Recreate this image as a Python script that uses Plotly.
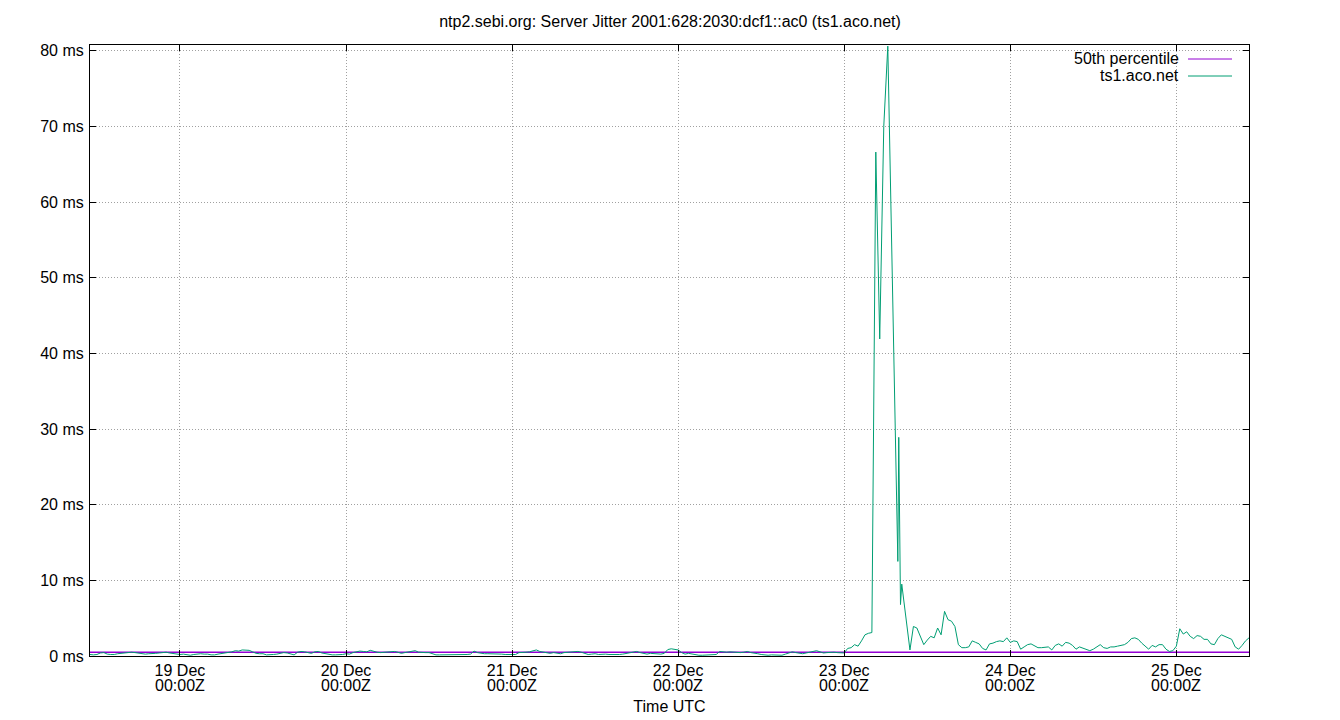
import pandas as pd
import plotly.graph_objects as go

title = "ntp2.sebi.org: Server Jitter 2001:628:2030:dcf1::ac0 (ts1.aco.net)"
series_name = "ts1.aco.net"
median_name = "50th percentile"
x_title = "Time UTC"
median_ms = 0.48

start = "2023-12-18 11:00"
step = "30min"

# jitter in ms, every 30 min (None = replaced by the irregular spike samples)
dec18 = [0.2, 0.15, 0.2, 0.4, 0.45, 0.25, 0.2, 0.2, 0.3, 0.35, 0.45, 0.5, 0.5,
         0.45, 0.35, 0.25, 0.25, 0.3, 0.3, 0.35, 0.4, 0.45, 0.5, 0.4, 0.3, 0.2]
dec19 = [0.2, 0.25, 0.15, 0.1, 0.2, 0.25, 0.3, 0.25, 0.25, 0.15, 0.15, 0.25, 0.3,
         0.35, 0.45, 0.55, 0.7, 0.65, 0.8, 0.8, 0.75, 0.55, 0.35, 0.3, 0.3, 0.15,
         0.15, 0.2, 0.25, 0.35, 0.45, 0.4, 0.3, 0.15, 0.5, 0.6, 0.55, 0.4, 0.35,
         0.55, 0.6, 0.4, 0.3, 0.2, 0.15, 0.15, 0.15, 0.2]
dec20 = [0.3, 0.25, 0.45, 0.55, 0.65, 0.6, 0.55, 0.75, 0.6, 0.5, 0.45, 0.5, 0.55,
         0.6, 0.6, 0.5, 0.35, 0.45, 0.55, 0.65, 0.7, 0.5, 0.45, 0.45, 0.45, 0.25,
         0.15, 0.15, 0.15, 0.15, 0.15, 0.15, 0.15, 0.15, 0.2, 0.2, 0.25, 0.65,
         0.45, 0.35, 0.3, 0.3, 0.3, 0.3, 0.25, 0.25, 0.2, 0.2]
dec21 = [0.2, 0.2, 0.45, 0.45, 0.5, 0.55, 0.65, 0.8, 0.6, 0.5, 0.4, 0.35, 0.45,
         0.35, 0.3, 0.45, 0.5, 0.5, 0.6, 0.6, 0.5, 0.3, 0.2, 0.25, 0.3, 0.2, 0.25,
         0.25, 0.2, 0.2, 0.1, 0.2, 0.25, 0.35, 0.45, 0.5, 0.6, 0.45, 0.3, 0.25,
         0.35, 0.3, 0.25, 0.25, 0.35, 0.85, 0.95, 0.9]
dec22 = [0.8, 0.45, 0.25, 0.35, 0.25, 0.1, 0.1, 0.1, 0.1, 0.1, 0.15, 0.2, 0.6,
         0.5, 0.5, 0.55, 0.5, 0.45, 0.45, 0.5, 0.6, 0.45, 0.4, 0.3, 0.2, 0.15,
         0.1, 0.15, 0.15, 0.1, 0.1, 0.25, 0.4, 0.55, 0.45, 0.35, 0.3, 0.4, 0.5,
         0.6, 0.7, 0.55, 0.4, 0.45, 0.5, 0.5, 0.45, 0.4]
dec23 = [0.4, 1.0, 1.1, 1.5, 1.3, 2.0, 2.8, 3.0, 3.1,
         None, None, None, None, None, None, None, None, None, None,
         0.8, 3.9, 3.7, 2.7, 1.5, 2.1, 2.6, 2.4, 3.7, 2.8, 5.9, 4.8, 4.6, 3.9,
         1.5, 1.1, 1.1, 1.2, 2.0, 1.8, 1.6, 1.0, 0.8, 1.6, 1.7, 1.9, 2.0, 1.9, 2.4]
dec24 = [1.8, 2.0, 1.9, 0.9, 1.2, 1.5, 1.6, 1.3, 1.1, 1.1, 1.2, 1.2, 0.8, 1.4,
         1.6, 1.3, 1.8, 1.7, 1.4, 0.9, 1.2, 1.0, 0.8, 0.7, 0.9, 1.2, 1.5, 1.1,
         1.0, 1.2, 1.2, 1.3, 1.4, 1.5, 1.8, 2.3, 2.4, 2.2, 1.7, 1.3, 0.9, 1.4,
         1.2, 1.5, 1.5, 0.9, 0.6, 0.7]
dec25 = [1.3, 3.6, 2.9, 3.2, 2.6, 2.3, 2.7, 2.6, 2.2, 2.2, 1.6, 1.5, 2.3, 2.8,
         2.6, 2.4, 2.2, 1.2, 0.9, 1.4, 2.0, 2.4]

# irregular samples during the spike on 23 Dec
spike_times = ["2023-12-23 04:34", "2023-12-23 05:08", "2023-12-23 05:43",
               "2023-12-23 06:18", "2023-12-23 07:45", "2023-12-23 07:53",
               "2023-12-23 08:08", "2023-12-23 08:19"]
spike_ms = [66.6, 41.9, 70.0, 80.6, 12.5, 28.9, 6.8, 9.5]

tick_days = ["2023-12-19", "2023-12-20", "2023-12-21", "2023-12-22",
             "2023-12-23", "2023-12-24", "2023-12-25"]
tick_dates = ["19 Dec", "20 Dec", "21 Dec", "22 Dec", "23 Dec", "24 Dec", "25 Dec"]
tick_time = "00:00Z"
y_ticks = [0, 10, 20, 30, 40, 50, 60, 70, 80]
y_labels = ["0 ms", "10 ms", "20 ms", "30 ms", "40 ms", "50 ms", "60 ms",
            "70 ms", "80 ms"]

regular = dec18 + dec19 + dec20 + dec21 + dec22 + dec23 + dec24 + dec25
times = pd.date_range(start, periods=len(regular), freq=step)
df = pd.DataFrame({"t": times, "ms": regular})
df = pd.concat([df, pd.DataFrame({"t": pd.to_datetime(spike_times), "ms": spike_ms})])
df = df.dropna().sort_values("t")

t0, t1 = df["t"].min(), df["t"].max()

GREEN = "#009e73"
PURPLE = "#9400d3"
FONT = "Liberation Sans"

fig = go.Figure()
fig.add_trace(go.Scatter(x=[t0, t1], y=[median_ms, median_ms], mode="lines",
                         line=dict(color=PURPLE, width=1.5), name=median_name,
                         showlegend=False))
fig.add_trace(go.Scatter(x=df["t"], y=df["ms"], mode="lines",
                         line=dict(color=GREEN, width=1), name=series_name,
                         showlegend=False))

L, R, T, B = 90, 1249, 45, 656
W, H = R - L, B - T


def px(x):
    return (x - L) / W


def py(y):
    return (B - y) / H


# second line of the x tick labels (gnuplot draws them tightly spaced)
for d in tick_days:
    fig.add_annotation(xref="x", yref="paper", x=pd.Timestamp(d), y=py(685),
                       text=tick_time, showarrow=False, xanchor="center",
                       yanchor="middle", font=dict(family=FONT, size=16, color="black"))

# legend (gnuplot style: text right aligned, sample on the right)
fig.add_shape(type="rect", xref="paper", yref="paper", x0=px(1068), x1=px(1240),
              y0=py(84), y1=py(51), fillcolor="white", line=dict(width=0),
              layer="between")
for i, (name, col) in enumerate([(median_name, PURPLE), (series_name, GREEN)]):
    yy = 58 + 17 * i
    fig.add_annotation(xref="paper", yref="paper", x=px(1180), y=py(yy),
                       text=name, showarrow=False, xanchor="right", borderpad=0,
                       yanchor="middle", font=dict(family=FONT, size=16, color="black"))
    fig.add_shape(type="line", xref="paper", yref="paper", x0=px(1188), x1=px(1232),
                  y0=py(yy + 1), y1=py(yy + 1), line=dict(color=col, width=1))

axis_common = dict(showline=True, linecolor="black", linewidth=1, mirror="allticks",
                   ticks="inside", ticklen=6, tickcolor="black", automargin=False,
                   showgrid=True, gridcolor="#a0a0a0", griddash="1px,2px", gridwidth=1,
                   zeroline=False, tickfont=dict(family=FONT, size=16, color="black"))

fig.update_xaxes(range=[t0, t1], tickvals=pd.to_datetime(tick_days), ticktext=tick_dates,
                 title=dict(text=x_title, font=dict(family=FONT, size=16, color="black"),
                            standoff=22),
                 **axis_common)
fig.update_yaxes(range=[0, 80.75], tickvals=y_ticks, ticktext=y_labels,
                 ticklabelstandoff=2, **axis_common)

fig.update_layout(
    width=1340, height=720,
    margin=dict(l=L, r=1340 - R, t=T, b=720 - B, pad=0, autoexpand=False),
    paper_bgcolor="white", plot_bgcolor="white",
    title=dict(text=title, x=0.5, xanchor="center", y=1 - 21 / 720, yanchor="middle",
               font=dict(family=FONT, size=16, color="black")),
    font=dict(family=FONT, size=16, color="black"),
)

fig.write_html("out.html", config={"displayModeBar": False},
               post_script="document.body.style.margin='0';document.body.style.padding='0';")
